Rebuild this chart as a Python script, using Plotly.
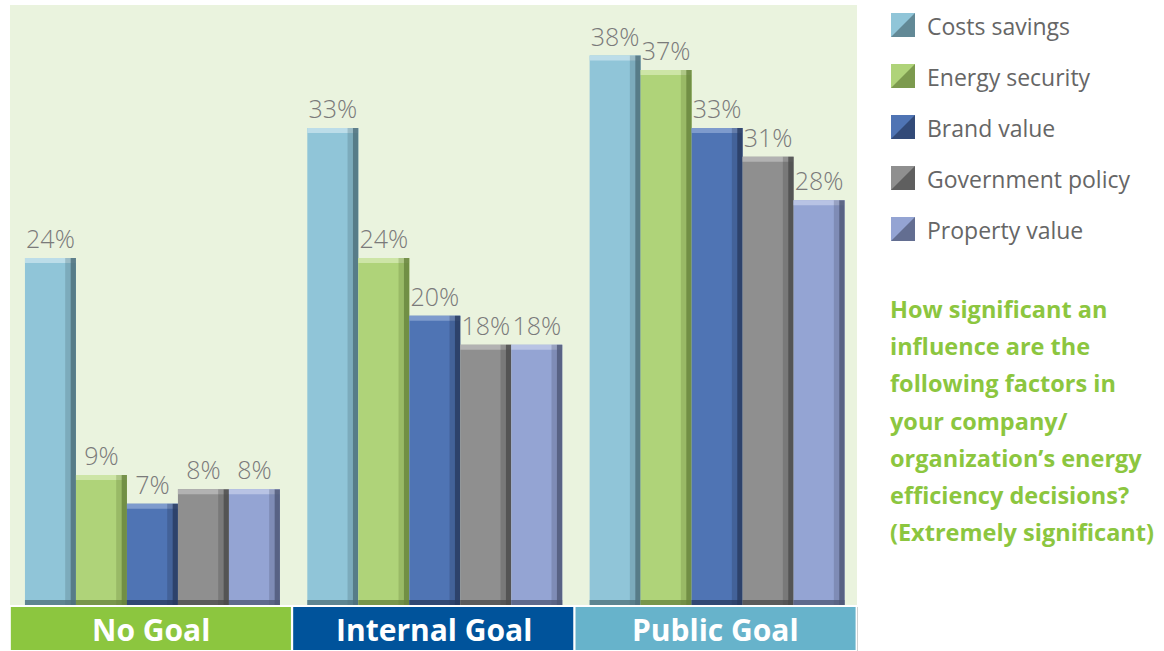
import plotly.graph_objects as go

# ---------------- data ----------------
categories = ["No Goal", "Internal Goal", "Public Goal"]
series_names = ["Costs savings", "Energy security", "Brand value",
                "Government policy", "Property value"]
costs_savings = [24, 33, 38]
energy_security = [9, 24, 37]
brand_value = [7, 20, 33]
government_policy = [8, 18, 31]
property_value = [8, 18, 28]
series_values = [costs_savings, energy_security, brand_value,
                 government_policy, property_value]

question_lines = ["How significant an", "influence are the",
                  "following factors in", "your company/",
                  "organization\u2019s energy", "efficiency decisions?",
                  "(Extremely significant)"]

# ---------------- styles ----------------
main_colors = ["#90C5D8", "#AFD379", "#4F74B4", "#8F8F8F", "#94A4D3"]
light_colors = ["#BCDDE9", "#CDE5A6", "#7E9BCD", "#B2B2B2", "#B8C3E4"]
dark_colors = ["#4E6F7A", "#66823C", "#27395E", "#4A4A4A", "#4E5775"]
cat_colors = ["#8CC63F", "#00539B", "#67B3CB"]
label_gray = "#7A7A7A"
text_gray = "#666666"
q_green = "#8CC63F"

L, R, T, B = 10, 307, 5, 46
W, H = 1164, 651
plot_w = W - L - R
plot_h = H - T - B
Y_MAX = 41.5

def px_x(p):
    return (p - L) / plot_w

def px_y(p):
    return (H - B - p) / plot_h

bar_w = 0.1806
start = -0.447
strip_w = 0.019
cap_h = 5.0 * Y_MAX / plot_h  # ~5px in data units

fig = go.Figure()
for j, (name, vals) in enumerate(zip(series_names, series_values)):
    off = start + j * bar_w
    # main bar with label
    fig.add_trace(go.Bar(
        x=categories, y=vals, name=name, offset=off, width=bar_w,
        marker=dict(color=main_colors[j], line=dict(width=0)),
        text=[f"{v}%" for v in vals], textposition="outside",
        textfont=dict(family="Open Sans", size=25, color=label_gray, weight=300),
        cliponaxis=False, showlegend=False, hoverinfo="skip"))
    # top highlight
    fig.add_trace(go.Bar(
        x=categories, y=[cap_h] * len(vals), base=[v - cap_h for v in vals],
        offset=off, width=bar_w,
        marker=dict(color=light_colors[j], line=dict(width=0)),
        showlegend=False, hoverinfo="skip"))
    # bottom shadow
    fig.add_trace(go.Bar(
        x=categories, y=[cap_h] * len(vals), offset=off, width=bar_w,
        marker=dict(color=dark_colors[j], opacity=0.75, line=dict(width=0)),
        showlegend=False, hoverinfo="skip"))
    # right dark edge
    fig.add_trace(go.Bar(
        x=categories, y=vals, offset=off + bar_w - strip_w, width=strip_w,
        marker=dict(color=dark_colors[j], opacity=0.85, line=dict(width=0)),
        showlegend=False, hoverinfo="skip"))
    fig.add_trace(go.Bar(
        x=categories, y=vals, offset=off + bar_w - 2 * strip_w, width=strip_w,
        marker=dict(color=dark_colors[j], opacity=0.3, line=dict(width=0)),
        showlegend=False, hoverinfo="skip"))

shapes = []
annotations = []

# category boxes under the axis
for i, (cat, col) in enumerate(zip(categories, cat_colors)):
    shapes.append(dict(type="rect", xref="x", yref="paper",
                       x0=i - 0.497, x1=i + 0.495,
                       y0=px_y(607), y1=px_y(650),
                       fillcolor=col, line=dict(width=0), layer="above"))
    annotations.append(dict(xref="x", yref="paper", x=i, y=px_y(629),
                            text=f"<b>{cat}</b>", showarrow=False,
                            xanchor="center", yanchor="middle",
                            font=dict(family="Open Sans", size=30, color="white")))
# faint outline of the strip
shapes.append(dict(type="line", xref="paper", yref="paper",
                   x0=px_x(857.5), x1=px_x(857.5), y0=px_y(607), y1=px_y(651),
                   line=dict(color="#D0D0D0", width=1)))

# custom legend
leg_y = [25, 76, 127, 178, 229]
for j, name in enumerate(series_names):
    yc = leg_y[j]
    shapes.append(dict(type="rect", xref="paper", yref="paper",
                       x0=px_x(891), x1=px_x(915), y0=px_y(yc + 12), y1=px_y(yc - 12),
                       fillcolor=main_colors[j], line=dict(width=0)))
    x0, x1 = px_x(891), px_x(915)
    y0, y1 = px_y(yc + 12), px_y(yc - 12)
    shapes.append(dict(type="path", xref="paper", yref="paper",
                       path=f"M {x1},{y1} L {x1},{y0} L {x0},{y0} Z",
                       fillcolor=dark_colors[j], opacity=0.7, line=dict(width=0)))
    annotations.append(dict(xref="paper", yref="paper", x=px_x(925), y=px_y(yc + 1),
                            text=name, showarrow=False, xanchor="left",
                            yanchor="middle",
                            font=dict(family="Open Sans", size=23, color=text_gray)))

# question text
q_base = 317
for k, line in enumerate(question_lines):
    yc = q_base + k * 37.2 - 8
    annotations.append(dict(xref="paper", yref="paper", x=px_x(888), y=px_y(yc),
                            text=f"<b>{line}</b>", showarrow=False,
                            xanchor="left", yanchor="middle",
                            font=dict(family="Open Sans", size=23.5, color=q_green)))

fig.update_layout(
    width=W, height=H,
    margin=dict(l=L, r=R, t=T, b=B, pad=0),
    paper_bgcolor="white", plot_bgcolor="#EAF3DE",
    barmode="overlay", showlegend=False,
    xaxis=dict(range=[-0.5, 2.5], showticklabels=False, showgrid=False,
               zeroline=False, showline=False, ticks="", type="category"),
    yaxis=dict(range=[0, Y_MAX], showticklabels=False, showgrid=False,
               zeroline=False, showline=False, ticks=""),
    shapes=shapes, annotations=annotations,
)

fig.write_html("out.html")
